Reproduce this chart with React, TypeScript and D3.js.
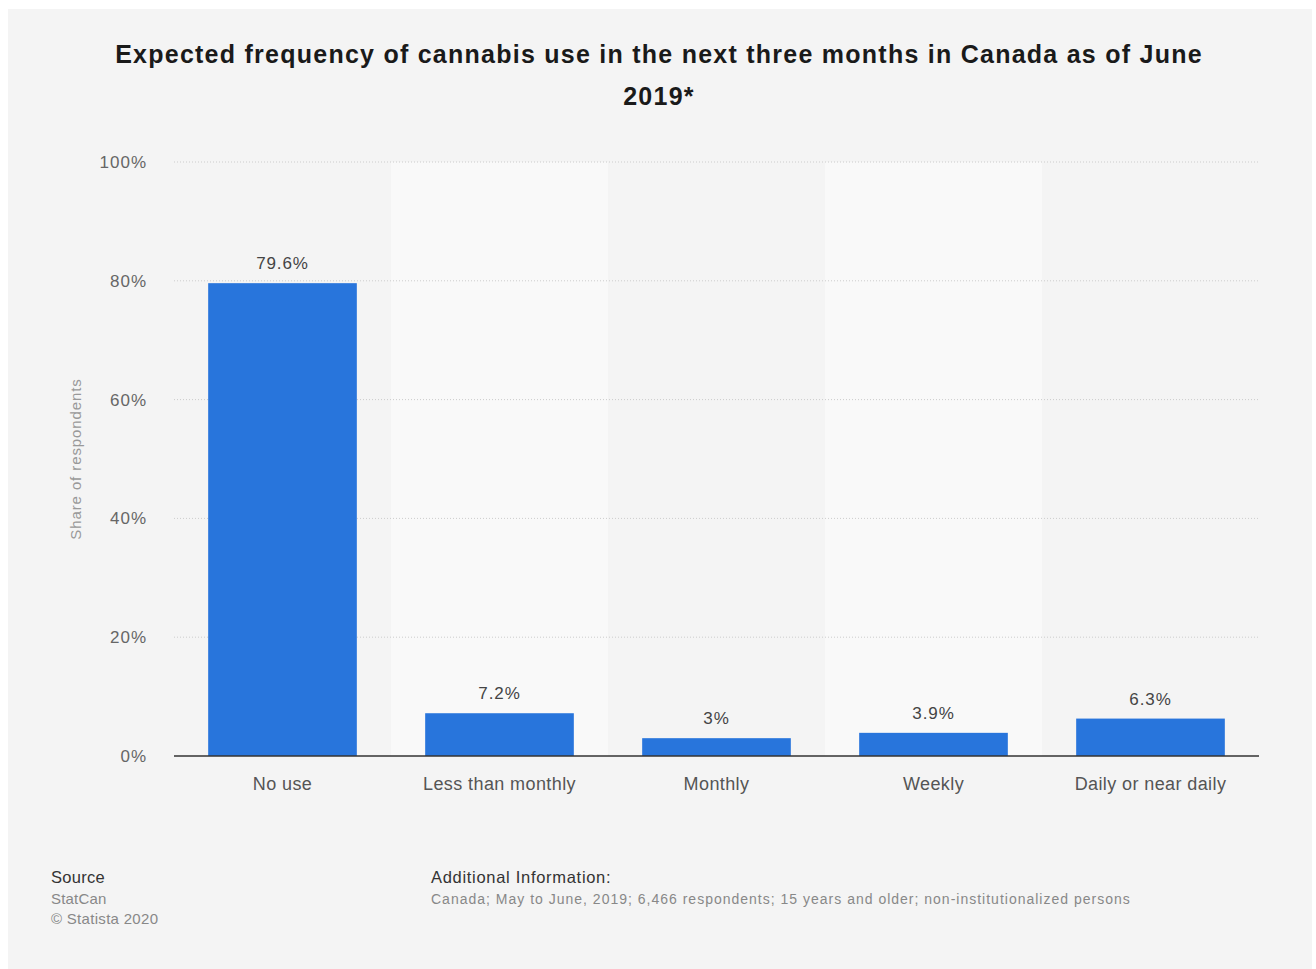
import React from "react";
import * as d3 from "d3";

const categories = ["No use", "Less than monthly", "Monthly", "Weekly", "Daily or near daily"];
const values = [79.6, 7.2, 3, 3.9, 6.3];
const valueLabels = ["79.6%", "7.2%", "3%", "3.9%", "6.3%"];
const yTicks = [0, 20, 40, 60, 80, 100];
const titleLines = [
  "Expected frequency of cannabis use in the next three months in Canada as of June",
  "2019*",
];

const W = 1316;
const H = 969;
const plot = { left: 174, right: 1259, top: 162, bottom: 756 };
const FONT = "'Liberation Sans', Arial, Helvetica, sans-serif";

export default function App() {
  const x = d3
    .scaleBand<string>()
    .domain(categories)
    .range([plot.left, plot.right])
    .paddingInner(0)
    .paddingOuter(0);
  const y = d3.scaleLinear().domain([0, 100]).range([plot.bottom, plot.top]);
  const barW = x.bandwidth() * 0.685;

  return (
    <svg
      width={W}
      height={H}
      style={{ position: "absolute", left: 0, top: 0, fontFamily: FONT }}
    >
      <rect x={0} y={0} width={W} height={H} fill="#ffffff" />
      <rect x={8} y={9} width={1304} height={960} fill="#f4f4f4" />
      {/* alternating bands */}
      {categories.map((c, i) =>
        i % 2 === 1 ? (
          <rect
            key={c}
            x={x(c)!}
            y={plot.top}
            width={x.bandwidth()}
            height={plot.bottom - plot.top}
            fill="#f9f9f9"
          />
        ) : null
      )}
      {/* title */}
      {titleLines.map((t, i) => (
        <text
          key={i}
          x={659}
          y={63 + i * 42}
          textAnchor="middle"
          fontSize={25}
          fontWeight="bold"
          fill="#1a1a1a"
          letterSpacing={1.25}
        >
          {t}
        </text>
      ))}
      {/* grid */}
      {yTicks.map((t) =>
        t === 0 ? null : (
          <line
            key={t}
            x1={plot.left}
            x2={plot.right}
            y1={y(t)}
            y2={y(t)}
            stroke="#cccccc"
            strokeWidth={1}
            strokeDasharray="1,2"
          />
        )
      )}
      {yTicks.map((t) => (
        <text
          key={t}
          x={147}
          y={y(t)}
          dy="0.35em"
          textAnchor="end"
          fontSize={17}
          fill="#666666"
          letterSpacing={1}
        >
          {t}%
        </text>
      ))}
      <text
        transform={`translate(81,${(plot.top + plot.bottom) / 2}) rotate(-90)`}
        textAnchor="middle"
        fontSize={15}
        fill="#999999"
        letterSpacing={0.9}
      >
        Share of respondents
      </text>
      {/* bars */}
      {categories.map((c, i) => {
        const cx = x(c)! + x.bandwidth() / 2;
        return (
          <g key={c}>
            <rect
              x={cx - barW / 2}
              y={y(values[i])}
              width={barW}
              height={plot.bottom - y(values[i])}
              fill="#2875dc"
            />
            <text
              x={cx}
              y={y(values[i]) - 14}
              textAnchor="middle"
              fontSize={17}
              fill="#444444"
              letterSpacing={0.9}
            >
              {valueLabels[i]}
            </text>
            <text
              x={cx}
              y={784}
              dy="0.35em"
              textAnchor="middle"
              fontSize={18}
              fill="#555555"
              letterSpacing={0.4}
            >
              {c}
            </text>
          </g>
        );
      })}
      <line
        x1={plot.left}
        x2={plot.right}
        y1={plot.bottom}
        y2={plot.bottom}
        stroke="#333333"
        strokeWidth={1.5}
      />
      {/* footer */}
      <text x={51} y={883} fontSize={16.5} fill="#333333" letterSpacing={0.3}>
        Source
      </text>
      <text x={51} y={904} fontSize={15} fill="#888888" letterSpacing={0.2}>
        StatCan
      </text>
      <text x={51} y={924} fontSize={15} fill="#888888" letterSpacing={0.3}>
        © Statista 2020
      </text>
      <text x={431} y={883} fontSize={16.5} fill="#333333" letterSpacing={0.7}>
        Additional Information:
      </text>
      <text x={431} y={904} fontSize={14} fill="#888888" letterSpacing={1.0}>
        Canada; May to June, 2019; 6,466 respondents; 15 years and older; non-institutionalized persons
      </text>
    </svg>
  );
}
